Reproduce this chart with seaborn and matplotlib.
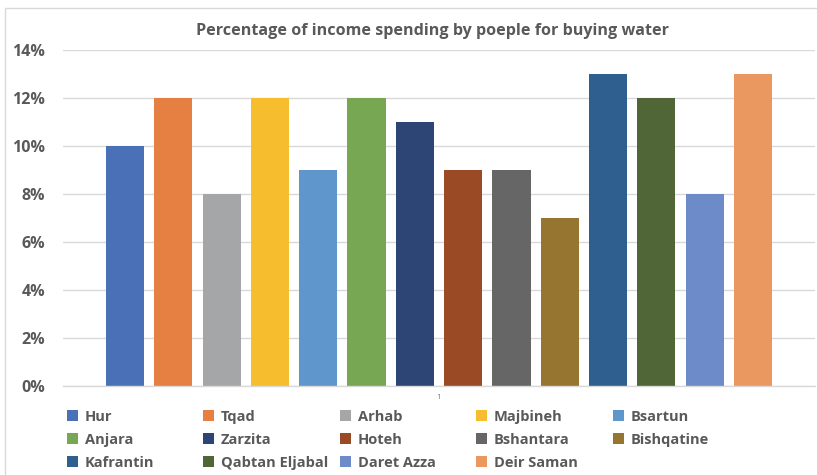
import matplotlib
matplotlib.use("Agg")
import matplotlib.pyplot as plt
import matplotlib.patches as mpatches
import seaborn as sns
import pandas as pd

# Villages and the share of income their residents spend on water
locations = ["Hur", "Tqad", "Arhab", "Majbineh", "Bsartun", "Anjara", "Zarzita",
             "Hoteh", "Bshantara", "Bishqatine", "Kafrantin", "Qabtan Eljabal",
             "Daret Azza", "Deir Saman"]
shares = [0.10, 0.12, 0.08, 0.12, 0.09, 0.12, 0.11,
          0.09, 0.09, 0.07, 0.13, 0.12, 0.08, 0.13]
group_label = ["1"] * len(locations)
bar_colors = ["#4A70B8", "#E68042", "#A5A6A8", "#F6BE2E", "#5F97CC", "#77A752",
              "#2D4574", "#9B4A26", "#666666", "#957530", "#2F5F8E", "#506637",
              "#6C8BC8", "#EA9860"]
y_ticks = [0, 0.02, 0.04, 0.06, 0.08, 0.10, 0.12, 0.14]
y_tick_labels = ["0%", "2%", "4%", "6%", "8%", "10%", "12%", "14%"]

df = pd.DataFrame({"group": group_label, "location": locations, "share": shares})

sns.set_theme(style="white")
plt.rcParams["font.family"] = ["Open Sans", "DejaVu Sans"]

text_gray = "#595959"
grid_gray = "#D9D9D9"
W, H = 817, 475

fig = plt.figure(figsize=(W / 100, H / 100), dpi=100)
ax = fig.add_axes([63 / W, 1 - 386 / H, (815 - 63) / W, (386 - 50) / H])

sns.barplot(data=df, x="group", y="share", hue="location", hue_order=locations,
            palette=bar_colors, width=0.899, gap=0.21, saturation=1,
            linewidth=0, ax=ax, legend=True)

ax.set_ylim(0, 0.14)
ax.set_xlim(-0.5, 0.5)
ax.set_yticks(y_ticks)
ax.set_yticklabels(y_tick_labels, fontsize=11.5, fontweight="bold", color=text_gray)
ax.tick_params(axis="y", length=0, pad=13)
ax.tick_params(axis="x", length=0, pad=6, labelsize=6, labelcolor="#7F7F7F")
ax.set_xlabel("")
ax.set_ylabel("")
ax.yaxis.grid(True, color=grid_gray, linewidth=1)
ax.set_axisbelow(True)
for side in ["left", "right", "top"]:
    ax.spines[side].set_visible(False)
ax.spines["bottom"].set_color(grid_gray)
ax.spines["bottom"].set_linewidth(1)

ax.set_title("Percentage of income spending by poeple for buying water",
             fontsize=11.6, fontweight="bold", color=text_gray, pad=11,
             x=(432 - 63) / (815 - 63))

# Legend: five evenly spaced columns, entries read row by row
handles, labels = ax.get_legend_handles_labels()
ax.get_legend().remove()
ncol = 5
col_x = [61, 197, 334, 470, 607]
for c in range(ncol):
    idx = list(range(c, len(labels), ncol))
    leg = fig.legend([handles[i] for i in idx], [labels[i] for i in idx],
                     loc="upper left", bbox_to_anchor=(col_x[c] / W, 1 - 404 / H),
                     frameon=False, handlelength=0.75, handleheight=0.75,
                     handletextpad=0.5, labelspacing=0.62, borderaxespad=0,
                     prop={"size": 10.5, "weight": "bold"})
    for t in leg.get_texts():
        t.set_color(text_gray)

# Chart frame
fig.patches.append(mpatches.Rectangle((5 / W, -0.1), 1.1, 1 - 8 / H + 0.1,
                                      transform=fig.transFigure, fill=False,
                                      edgecolor=grid_gray, linewidth=1))

fig.savefig("out.png", dpi=100)
